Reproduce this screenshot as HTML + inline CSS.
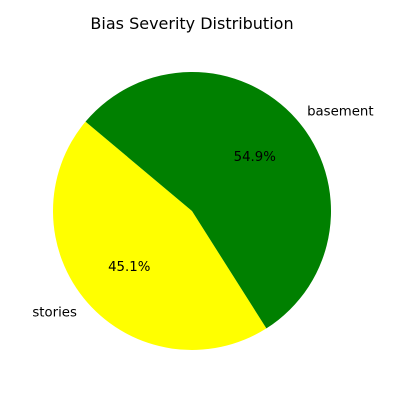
<!DOCTYPE html>
<html><head><meta charset="utf-8"><style>body{margin:0;background:#fff}svg{display:block}</style></head>
<body>
<svg id="chart" width="400" height="400" xmlns="http://www.w3.org/2000/svg" font-family="DejaVu Sans, Liberation Sans, sans-serif">
<rect width="400" height="400" fill="#fff"/>
<text x="192" y="29" text-anchor="middle" font-size="16">Bias Severity Distribution</text>
<g id="slices"></g>
</svg>
<script>
const categories = ["stories", "basement"];
const values = [45.1, 54.9];
const colors = ["yellow", "green"];
const cx = 192, cy = 211, r = 139, start = 140;
const g = document.getElementById('slices');
const ns = 'http://www.w3.org/2000/svg';
const total = values.reduce((a, b) => a + b, 0);
let a0 = start;
function pt(deg, rad) { const t = deg * Math.PI / 180; return [cx + rad * Math.cos(t), cy - rad * Math.sin(t)]; }
values.forEach((v, i) => {
  const sweep = v / total * 360, a1 = a0 + sweep;
  const p0 = pt(a0, r), p1 = pt(a1, r);
  const path = document.createElementNS(ns, 'path');
  path.setAttribute('d', `M${cx},${cy} L${p0[0]},${p0[1]} A${r},${r} 0 ${sweep > 180 ? 1 : 0} 0 ${p1[0]},${p1[1]} Z`);
  path.setAttribute('fill', colors[i]);
  
  
  g.appendChild(path);
  const mid = (a0 + a1) / 2;
  const lp = pt(mid, r * 1.1);
  const lab = document.createElementNS(ns, 'text');
  lab.setAttribute('x', lp[0]); lab.setAttribute('y', lp[1] + 5);
  lab.setAttribute('font-size', '13.3');
  lab.setAttribute('text-anchor', Math.cos(mid * Math.PI / 180) < 0 ? 'end' : 'start');
  lab.textContent = categories[i];
  
  
  g.appendChild(lab);
  const pp = pt(mid, r * 0.6);
  const pc = document.createElementNS(ns, 'text');
  pc.setAttribute('x', pp[0]); pc.setAttribute('y', pp[1] + 5);
  pc.setAttribute('font-size', '13.3'); pc.setAttribute('text-anchor', 'middle');
  pc.textContent = (v / total * 100).toFixed(1) + '%';
  
  
  g.appendChild(pc);
  a0 = a1;
});
</script>
</body></html>
